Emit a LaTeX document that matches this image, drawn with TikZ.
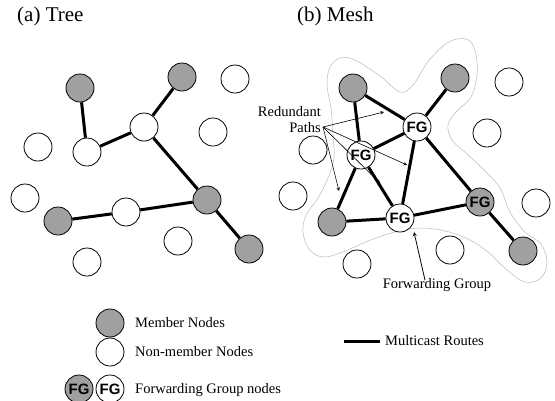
\documentclass[tikz,border=0pt]{standalone}
\usepackage{fontspec}
\usepackage{tikz}
\setmainfont{Liberation Serif}
\newfontfamily\fgfont{Liberation Sans}
\definecolor{membergray}{RGB}{160,160,160}
\tikzset{
  member/.style={circle,draw,line width=0.8pt,fill=membergray,minimum size=28pt,inner sep=0pt},
  nonmember/.style={member,fill=white},
  fgnode/.style={nonmember,font=\fgfont\bfseries\fontsize{15}{15}\selectfont},
  fgmember/.style={fgnode,fill=membergray},
  route/.style={line width=3pt},
  lbl/.style={inner sep=0pt,font=\fontsize{14.5}{16}\selectfont},
  ttl/.style={inner sep=0pt,anchor=west,font=\fontsize{21}{24}\selectfont},
}

\begin{document}
\begin{tikzpicture}[x=1pt,y=-1pt]
          \useasboundingbox (0,0) rectangle (555,400);
          \node[ttl] (ttree) at (17,16) {(a) Tree};
          \node[ttl] (tmesh) at (297,16) {(b) Mesh};
          % forwarding group outline
          \draw[gray!55,line width=0.5pt] plot[smooth cycle,tension=0.6] coordinates {
            (330,67) (340,58) (355,60) (380,76) (400,92) (413,85) (427,63) (443,46)
            (457,39) (470,41) (476,55) (477,75) (471,97) (456,112) (448,125) (452,140)
            (466,153) (484,170) (500,188) (510,212) (525,232) (541,244) (547,262)
            (541,278) (525,282) (507,270) (488,252) (468,239) (445,231) (420,228)
            (395,232) (368,241) (343,252) (323,257) (309,249) (303,232) (306,215)
            (318,198) (328,178) (334,158) (333,135) (331,108) (327,85)};
          % tree
          \node[member] (t1) at (80,88) {};
          \node[member] (t2) at (182,77) {};
          \node[nonmember] (t3) at (235,79) {};
          \node[nonmember] (t4) at (144,127) {};
          \node[nonmember] (t5) at (213,132) {};
          \node[nonmember] (t6) at (38,147) {};
          \node[nonmember] (t7) at (87,152) {};
          \node[nonmember] (t8) at (25,198) {};
          \node[member] (t9) at (58,221) {};
          \node[nonmember] (t10) at (126,212) {};
          \node[member] (t11) at (207,200) {};
          \node[nonmember] (t12) at (178,241) {};
          \node[member] (t13) at (249,249) {};
          \node[nonmember] (t14) at (87,262) {};
          \draw[route] (t1) -- (t7) -- (t4) -- (t2);
          \draw[route] (t4) -- (t11) -- (t13);
          \draw[route] (t9) -- (t10) -- (t11);
          % mesh
          \node[member] (m1) at (353,88) {};
          \node[member] (m2) at (455,78) {};
          \node[nonmember] (m3) at (509,82) {};
          \node[fgnode] (m4) at (417,127) {FG};
          \node[nonmember] (m5) at (487,133) {};
          \node[nonmember] (m6) at (313,150) {};
          \node[fgnode] (m7) at (361,155) {FG};
          \node[nonmember] (m8) at (293,196) {};
          \node[member] (m9) at (332,222) {};
          \node[fgnode] (m10) at (400,218) {FG};
          \node[fgmember] (m11) at (480,202) {FG};
          \node[nonmember] (m12) at (536,203) {};
          \node[nonmember] (m13) at (450,250) {};
          \node[nonmember] (m14) at (357,264) {};
          \node[member] (m15) at (523,251) {};
          \draw[route] (m1) -- (m4) -- (m2);
          \draw[route] (m1) -- (m7) -- (m4) -- (m10);
          \draw[route] (m4) -- (m11) -- (m15);
          \draw[route] (m7) -- (m9) -- (m10) -- (m11);
          \draw[route] (m7) -- (m10);
          % labels and arrows
          \node[lbl,align=right,anchor=east] (redund) at (321,120) {Redundant\\Paths};
          \coordinate (rp) at (323,127);
          \coordinate (rt1) at (384,112);
          \coordinate (rt2) at (407,165);
          \coordinate (rt3) at (380,183);
          \coordinate (rt4) at (339,191);
          \draw[line width=0.6pt,-stealth] (rp) -- (rt1);
          \draw[line width=0.6pt,-stealth] (rp) -- (rt2);
          \draw[line width=0.6pt,-stealth] (rp) -- (rt3);
          \draw[line width=0.6pt,-stealth] (rp) -- (rt4);
          \node[lbl] (fglbl) at (437,285) {Forwarding Group};
          \coordinate (fgtip) at (414,232);
          \draw[line width=0.8pt,-stealth] ([xshift=-12pt,yshift=-2pt]fglbl.north) -- (fgtip);
          % legend
          \node[member] (lmem) at (110,323) {};
          \node[nonmember] (lnon) at (110,352) {};
          \node[fgmember] (lfg1) at (79,389) {FG};
          \node[fgnode] (lfg2) at (110,389) {FG};
          \node[lbl,anchor=west] (lmemlbl) at (135,323) {Member Nodes};
          \node[lbl,anchor=west] (lnonlbl) at (135,352) {Non-member Nodes};
          \node[lbl,anchor=west] (lfglbl) at (135,390) {Forwarding Group nodes};
          \coordinate (lroute) at (344,341);
          \node[lbl,anchor=west] (lroutelbl) at (385,341) {Multicast Routes};
          \draw[route] (lroute) -- ([xshift=-5pt]lroutelbl.west);
\end{tikzpicture}
\end{document}
